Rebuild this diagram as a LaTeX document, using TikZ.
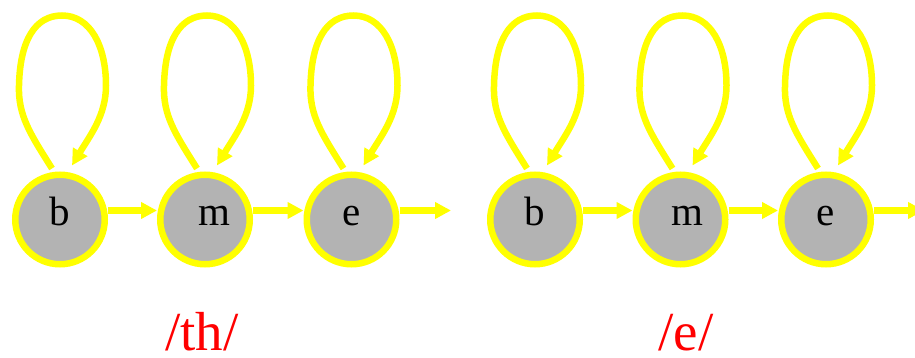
\documentclass[tikz,border=0pt]{standalone}
\usepackage{fontspec}
\setmainfont{Liberation Serif}
\usetikzlibrary{arrows.meta}
\definecolor{ringyellow}{RGB}{255,255,0}
\definecolor{statefill}{RGB}{179,179,179}
\begin{document}
\begin{tikzpicture}[x=1pt,y=-1pt,
  state/.style={circle, draw=ringyellow, line width=6.5pt, fill=statefill,
    minimum size=89.5pt, inner sep=0pt, font=\fontsize{41}{49}\selectfont,
    text height=28pt, text depth=16pt},
  edge/.style={draw=ringyellow, line width=6.5pt,
    -{Triangle[length=16pt,width=16pt]}},
  phone/.style={text=red, font=\fontsize{55}{63}\selectfont, anchor=base,
    inner sep=0pt, text depth=0pt}]
\useasboundingbox (0,0) rectangle (915,358);

% begin / middle / end states of the two phone models
\node[state] (b1) at (60,219.5) {b};
\node[state] (m1) at (205,219.5) {\hspace*{18pt}m};
\node[state] (e1) at (351.5,219.5) {e};
\node[state] (b2) at (535,219.5) {b};
\node[state] (m2) at (680.5,219.5) {\hspace*{14pt}m};
\node[state] (e2) at (826,219.5) {e};

\coordinate (out1) at (451,210.5);
\coordinate (out2) at (924,210.5);

% self loops
\foreach \s in {b1,m1,e1,b2,m2,e2}
  \draw[edge] ([shift={(-8,-51)}]\s.center)
    .. controls ([shift={(-30,-86)}]\s.center) and ([shift={(-42,-104)}]\s.center)
    .. ([shift={(-41,-134)}]\s.center)
    .. controls ([shift={(-40,-179)}]\s.center) and ([shift={(-25,-204)}]\s.center)
    .. ([shift={(2,-204)}]\s.center)
    .. controls ([shift={(30,-204)}]\s.center) and ([shift={(46,-174)}]\s.center)
    .. ([shift={(46,-134)}]\s.center)
    .. controls ([shift={(46,-104)}]\s.center) and ([shift={(30,-84)}]\s.center)
    .. ([shift={(12,-54)}]\s.center);

% forward transitions
\draw[edge] ([yshift=9pt]b1.east) -- ([yshift=9pt]m1.west);
\draw[edge] ([yshift=9pt]m1.east) -- ([yshift=9pt]e1.west);
\draw[edge] ([yshift=9pt]e1.east) -- (out1);
\draw[edge] ([yshift=9pt]b2.east) -- ([yshift=9pt]m2.west);
\draw[edge] ([yshift=9pt]m2.east) -- ([yshift=9pt]e2.west);
\draw[edge] ([yshift=9pt]e2.east) -- (out2);

% phone labels
\node[phone] (th) at (202,350) {/th/};
\node[phone] (ee) at (686,350) {/e/};
\end{tikzpicture}
\end{document}
